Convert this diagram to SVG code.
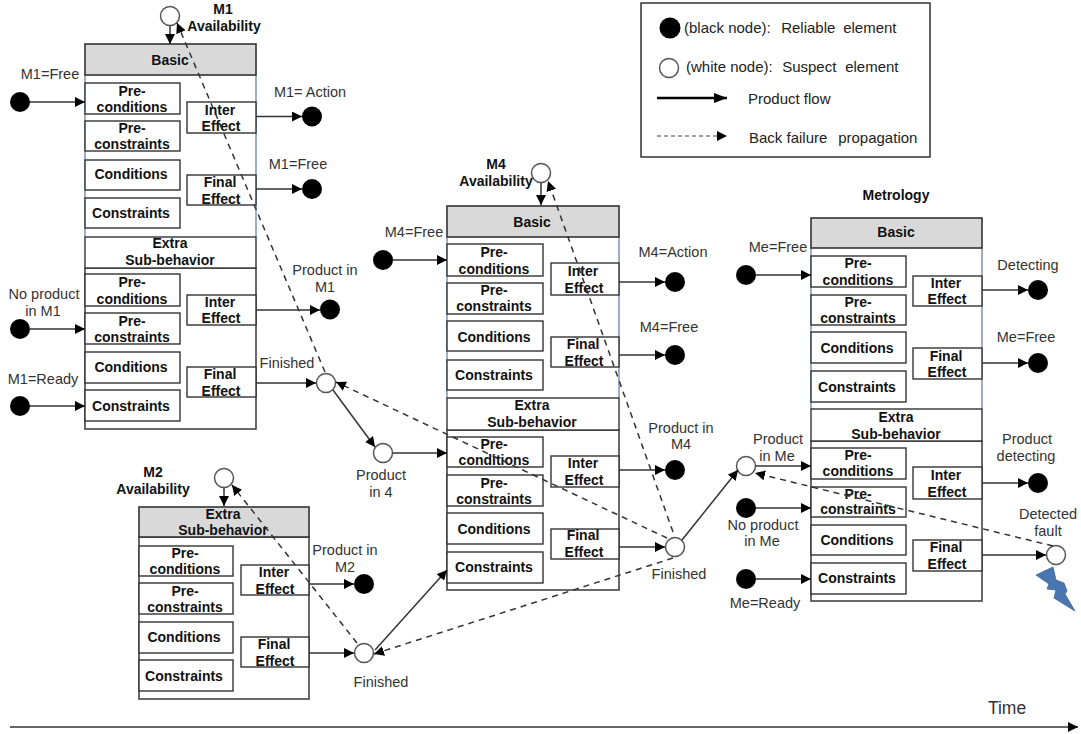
<svg xmlns="http://www.w3.org/2000/svg" width="1081" height="734" viewBox="0 0 1081 734">
<defs>
<marker id="a" markerUnits="userSpaceOnUse" markerWidth="11" markerHeight="10" refX="10" refY="5" orient="auto"><path d="M0 0L10 5L0 10Z" fill="#000"/></marker>
<marker id="b" markerUnits="userSpaceOnUse" markerWidth="14" markerHeight="10" refX="13" refY="5" orient="auto"><path d="M0 0L13 5L0 10Z" fill="#000"/></marker>
</defs>
<style>
text{font-family:"Liberation Sans",Arial,sans-serif;font-size:14px;text-anchor:middle}
.b{font-weight:bold;fill:#111}
.l{fill:#333;font-size:14.500px}
.lg{fill:#222;font-size:15px;text-anchor:start}
.box{fill:#fff;stroke:#333;stroke-width:1.4}
.hd{fill:#d9d9d9;stroke:#333;stroke-width:1.6}
.frame{fill:#fff;stroke:#444;stroke-width:1.6}
.side{stroke:#5b7ba3;stroke-width:1.2;fill:none}
.k{fill:#000}
.w{fill:#fff;stroke:#555;stroke-width:1.5}
.s{stroke:#333;stroke-width:1.5;fill:none;marker-end:url(#a)}
.d{stroke:#333;stroke-width:1.5;fill:none;stroke-dasharray:6 5;marker-end:url(#a)}
</style>
<rect width="1081" height="734" fill="#fff"/>

<g id="legend">
<rect x="641" y="3" width="289" height="154" fill="#fff" stroke="#222" stroke-width="1.4"/>
<circle class="k" cx="670" cy="28" r="10.500"/>
<circle cx="669" cy="68" r="9.500" class="w"/>
<text class="lg" y="33"><tspan x="684">(black node):</tspan><tspan x="777"> Reliable</tspan><tspan x="839"> element</tspan></text>
<text class="lg" y="72"><tspan x="686">(white node):</tspan><tspan x="778"> Suspect</tspan><tspan x="841"> element</tspan></text>
<text class="lg" x="748" y="104">Product flow</text>
<text class="lg" y="143"><tspan x="749">Back failure</tspan><tspan x="834"> propagation</tspan></text>
<path d="M657 98H727" stroke="#000" stroke-width="2.400" fill="none" marker-end="url(#b)"/>
<path d="M657 136H727" stroke="#444" stroke-width="1.200" stroke-dasharray="4 3" fill="none" marker-end="url(#a)"/>
</g>

<g id="block-m1">
<path class="side" d="M85 75V237M256 75V237"/>
<rect class="hd" x="85" y="44" width="171" height="31"/>
<text class="b" x="170" y="65">Basic</text>
<rect class="box" x="85" y="83" width="95" height="31"/><text class="b" x="132" y="96">Pre-</text><text class="b" x="132" y="112">conditions</text>
<rect class="box" x="85" y="121" width="95" height="30"/><text class="b" x="132" y="133">Pre-</text><text class="b" x="132" y="149">constraints</text>
<rect class="box" x="85" y="160" width="95" height="30"/><text class="b" x="131" y="179">Conditions</text>
<rect class="box" x="85" y="198" width="95" height="30"/><text class="b" x="131" y="218">Constraints</text>
<rect class="box" x="187" y="102" width="69" height="31"/><text class="b" x="220" y="115">Inter</text><text class="b" x="221" y="131">Effect</text>
<rect class="box" x="187" y="175" width="69" height="30"/><text class="b" x="220" y="187">Final</text><text class="b" x="221" y="204">Effect</text>
<rect class="frame" x="85" y="268" width="171" height="161"/>
<rect class="box" x="85" y="237" width="171" height="31"/>
<text class="b" x="170" y="248">Extra</text><text class="b" x="170" y="265">Sub-behavior</text>
<rect class="box" x="85" y="274" width="95" height="32"/><text class="b" x="132" y="287">Pre-</text><text class="b" x="132" y="304">conditions</text>
<rect class="box" x="85" y="313" width="95" height="31"/><text class="b" x="132" y="326">Pre-</text><text class="b" x="132" y="342">constraints</text>
<rect class="box" x="85" y="352" width="95" height="31"/><text class="b" x="131" y="372">Conditions</text>
<rect class="box" x="85" y="390" width="95" height="31"/><text class="b" x="131" y="411">Constraints</text>
<rect class="box" x="187" y="295" width="69" height="30"/><text class="b" x="220" y="307">Inter</text><text class="b" x="221" y="323">Effect</text>
<rect class="box" x="187" y="367" width="69" height="30"/><text class="b" x="220" y="379">Final</text><text class="b" x="221" y="396">Effect</text>
</g>

<g id="block-m2">
<rect class="frame" x="139" y="537" width="170" height="162"/>
<rect class="hd" x="139" y="507" width="170" height="30"/>
<text class="b" x="223" y="519">Extra</text><text class="b" x="223" y="535">Sub-behavior</text>
<rect class="box" x="139" y="546" width="94" height="30"/><text class="b" x="185" y="558">Pre-</text><text class="b" x="185" y="574">conditions</text>
<rect class="box" x="139" y="583" width="94" height="31"/><text class="b" x="185" y="596">Pre-</text><text class="b" x="185" y="612">constraints</text>
<rect class="box" x="139" y="622" width="94" height="31"/><text class="b" x="184" y="642">Conditions</text>
<rect class="box" x="139" y="660" width="94" height="31"/><text class="b" x="184" y="681">Constraints</text>
<rect class="box" x="241" y="565" width="68" height="30"/><text class="b" x="274" y="577">Inter</text><text class="b" x="275" y="594">Effect</text>
<rect class="box" x="241" y="637" width="68" height="30"/><text class="b" x="274" y="649">Final</text><text class="b" x="275" y="666">Effect</text>
</g>

<g id="block-m4">
<path class="side" d="M447 237V398M619 237V398"/>
<rect class="hd" x="447" y="206" width="172" height="31"/>
<text class="b" x="532" y="227">Basic</text>
<rect class="box" x="447" y="244" width="96" height="32"/><text class="b" x="494" y="257">Pre-</text><text class="b" x="494" y="274">conditions</text>
<rect class="box" x="447" y="283" width="96" height="31"/><text class="b" x="494" y="295">Pre-</text><text class="b" x="494" y="311">constraints</text>
<rect class="box" x="447" y="321" width="96" height="30"/><text class="b" x="494" y="342">Conditions</text>
<rect class="box" x="447" y="360" width="96" height="30"/><text class="b" x="494" y="380">Constraints</text>
<rect class="box" x="551" y="263" width="68" height="32"/><text class="b" x="583" y="276">Inter</text><text class="b" x="584" y="293">Effect</text>
<rect class="box" x="551" y="337" width="68" height="30"/><text class="b" x="583" y="349">Final</text><text class="b" x="584" y="366">Effect</text>
<rect class="frame" x="447" y="430" width="172" height="160"/>
<rect class="box" x="447" y="398" width="172" height="32"/>
<text class="b" x="532" y="410">Extra</text><text class="b" x="532" y="427">Sub-behavior</text>
<rect class="box" x="447" y="437" width="96" height="30"/><text class="b" x="494" y="449">Pre-</text><text class="b" x="494" y="465">conditions</text>
<rect class="box" x="447" y="475" width="96" height="31"/><text class="b" x="494" y="488">Pre-</text><text class="b" x="494" y="504">constraints</text>
<rect class="box" x="447" y="513" width="96" height="31"/><text class="b" x="494" y="534">Conditions</text>
<rect class="box" x="447" y="552" width="96" height="31"/><text class="b" x="494" y="572">Constraints</text>
<rect class="box" x="551" y="456" width="68" height="31"/><text class="b" x="583" y="468">Inter</text><text class="b" x="584" y="485">Effect</text>
<rect class="box" x="551" y="529" width="68" height="30"/><text class="b" x="583" y="540">Final</text><text class="b" x="584" y="557">Effect</text>
</g>

<g id="block-metrology">
<path class="side" d="M811 248V409M982 248V409"/>
<rect class="hd" x="811" y="218" width="171" height="30"/>
<text class="b" x="896" y="237">Basic</text>
<rect class="box" x="811" y="256" width="95" height="31"/><text class="b" x="858" y="268">Pre-</text><text class="b" x="858" y="285">conditions</text>
<rect class="box" x="811" y="295" width="95" height="30"/><text class="b" x="858" y="307">Pre-</text><text class="b" x="858" y="323">constraints</text>
<rect class="box" x="811" y="332" width="95" height="31"/><text class="b" x="857" y="353">Conditions</text>
<rect class="box" x="811" y="371" width="95" height="31"/><text class="b" x="857" y="392">Constraints</text>
<rect class="box" x="913" y="276" width="69" height="30"/><text class="b" x="946" y="288">Inter</text><text class="b" x="947" y="304">Effect</text>
<rect class="box" x="913" y="348" width="69" height="31"/><text class="b" x="946" y="361">Final</text><text class="b" x="947" y="377">Effect</text>
<rect class="frame" x="811" y="441" width="171" height="160"/>
<rect class="box" x="811" y="409" width="171" height="32"/>
<text class="b" x="896" y="422">Extra</text><text class="b" x="896" y="439">Sub-behavior</text>
<rect class="box" x="811" y="448" width="95" height="31"/><text class="b" x="858" y="460">Pre-</text><text class="b" x="858" y="476">conditions</text>
<rect class="box" x="811" y="487" width="95" height="30"/><text class="b" x="858" y="499">Pre-</text><text class="b" x="858" y="514">constraints</text>
<rect class="box" x="811" y="525" width="95" height="30"/><text class="b" x="857" y="545">Conditions</text>
<rect class="box" x="811" y="563" width="95" height="31"/><text class="b" x="857" y="583">Constraints</text>
<rect class="box" x="913" y="467" width="69" height="32"/><text class="b" x="946" y="480">Inter</text><text class="b" x="947" y="497">Effect</text>
<rect class="box" x="913" y="540" width="69" height="31"/><text class="b" x="946" y="552">Final</text><text class="b" x="947" y="569">Effect</text>
</g>

<g id="node-m1-avail"><circle class="w" cx="170" cy="16" r="9.500"/><text class="b" x="223" y="14">M1</text><text class="b" x="224" y="31">Availability</text></g>
<g id="node-m1-free-in"><circle class="k" cx="20" cy="102" r="10"/><text class="l" x="50" y="79">M1=Free</text></g>
<g id="node-m1-action"><circle class="k" cx="312" cy="116.500" r="10"/><text class="l" x="310" y="97">M1= Action</text></g>
<g id="node-m1-free-out"><circle class="k" cx="312" cy="189" r="10"/><text class="l" x="298" y="169">M1=Free</text></g>
<g id="node-m1-product"><circle class="k" cx="330" cy="309.500" r="10"/><text class="l" x="325" y="275">Product in</text><text class="l" x="325" y="292">M1</text></g>
<g id="node-m1-noproduct"><circle class="k" cx="20" cy="329" r="10"/><text class="l" x="44" y="299">No product</text><text class="l" x="43" y="316">in M1</text></g>
<g id="node-m1-ready"><circle class="k" cx="20" cy="406" r="10"/><text class="l" x="43" y="384">M1=Ready</text></g>
<g id="node-m1-finished"><circle class="w" cx="326" cy="383" r="9.500"/><text class="l" x="287" y="368">Finished</text></g>
<g id="node-product-in-4"><circle class="w" cx="383" cy="453" r="9.500"/><text class="l" x="381" y="480">Product</text><text class="l" x="381" y="497">in 4</text></g>
<g id="node-m2-avail"><circle class="w" cx="224" cy="478" r="9.500"/><text class="b" x="153" y="477">M2</text><text class="b" x="153" y="494">Availability</text></g>
<g id="node-m2-product"><circle class="k" cx="364" cy="584" r="10"/><text class="l" x="345" y="555">Product in</text><text class="l" x="345" y="572">M2</text></g>
<g id="node-m2-finished"><circle class="w" cx="364" cy="653" r="9.500"/><text class="l" x="381" y="687">Finished</text></g>
<g id="node-m4-avail"><circle class="w" cx="541" cy="173" r="9.500"/><text class="b" x="496" y="169">M4</text><text class="b" x="496" y="186">Availability</text></g>
<g id="node-m4-free-in"><circle class="k" cx="383" cy="260" r="10"/><text class="l" x="414" y="237">M4=Free</text></g>
<g id="node-m4-action"><circle class="k" cx="675" cy="282" r="10"/><text class="l" x="673" y="257">M4=Action</text></g>
<g id="node-m4-free-out"><circle class="k" cx="675" cy="355" r="10"/><text class="l" x="669" y="332">M4=Free</text></g>
<g id="node-m4-product"><circle class="k" cx="675" cy="470" r="10"/><text class="l" x="681" y="433">Product in</text><text class="l" x="681" y="449">M4</text></g>
<g id="node-m4-finished"><circle class="w" cx="675" cy="547" r="9.500"/><text class="l" x="679" y="579">Finished</text></g>
<g id="node-me-free-in"><circle class="k" cx="746" cy="275" r="10"/><text class="l" x="778" y="252">Me=Free</text></g>
<g id="node-me-product"><circle class="w" cx="746" cy="466" r="9.500"/><text class="l" x="778" y="444">Product</text><text class="l" x="777" y="461">in Me</text></g>
<g id="node-me-noproduct"><circle class="k" cx="746" cy="508" r="10"/><text class="l" x="763" y="530">No product</text><text class="l" x="762" y="546">in Me</text></g>
<g id="node-me-ready"><circle class="k" cx="746" cy="579" r="10"/><text class="l" x="765" y="608">Me=Ready</text></g>
<g id="node-detecting"><circle class="k" cx="1038" cy="290" r="10"/><text class="l" x="1028" y="270">Detecting</text></g>
<g id="node-me-free-out"><circle class="k" cx="1038" cy="363" r="10"/><text class="l" x="1026" y="342">Me=Free</text></g>
<g id="node-product-detecting"><circle class="k" cx="1038" cy="483" r="10"/><text class="l" x="1027" y="444">Product</text><text class="l" x="1026" y="461">detecting</text></g>
<g id="node-detected-fault"><circle class="w" cx="1056" cy="555" r="9.500"/><text class="l" x="1048" y="519">Detected</text><text class="l" x="1048" y="536">fault</text>
<polygon points="1036,575 1053,567 1056,580 1064,583 1067,591 1065,594 1075,611 1054,598 1056,590 1047,589 1049,584" fill="#4a76b0" stroke="#3a659f" stroke-width="0.800"/></g>
<g id="title-metrology"><text class="b" x="896" y="200">Metrology</text></g>
<g id="axis-time"><text x="1007" y="714" style="font-size:17.500px;fill:#333">Time</text></g>

<g id="connectors">
<path class="s" d="M170 26V44"/>
<path class="s" d="M30 102H85"/>
<path class="s" d="M256 116.500H302"/>
<path class="s" d="M256 189H302"/>
<path class="s" d="M30 329H85"/>
<path class="s" d="M30 406H85"/>
<path class="s" d="M256 310H320"/>
<path class="s" d="M256 383H316"/>
<path class="s" d="M333 390L375 447"/>
<path class="s" d="M393 453H447"/>
<path class="s" d="M224 488V506"/>
<path class="s" d="M309 584H354"/>
<path class="s" d="M309 653H354"/>
<path class="s" d="M375 650L447 570"/>
<path class="s" d="M393 260H447"/>
<path class="s" d="M541 183V205"/>
<path class="s" d="M619 282H665"/>
<path class="s" d="M619 355H665"/>
<path class="s" d="M619 470H665"/>
<path class="s" d="M619 547H665"/>
<path class="s" d="M682 540L738 470"/>
<path class="s" d="M756 275H811"/>
<path class="s" d="M756 466H811"/>
<path class="s" d="M756 508H811"/>
<path class="s" d="M756 579H811"/>
<path class="s" d="M982 290H1028"/>
<path class="s" d="M982 363H1028"/>
<path class="s" d="M982 483H1028"/>
<path class="s" d="M982 555H1046"/>
<path class="d" d="M325 372L177 23"/>
<path class="d" d="M357 643L232 485"/>
<path class="d" d="M667 538L336 382"/>
<path class="d" d="M673 532L548 181"/>
<path class="d" d="M673 558L374 654"/>
<path class="d" d="M1053 546L755 473"/>
<path class="s" d="M10 727H1078"/>
</g>
</svg>
